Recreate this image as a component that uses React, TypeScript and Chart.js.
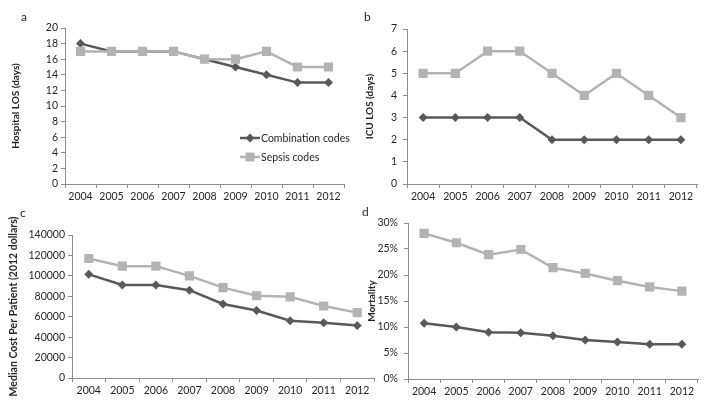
import React, { useEffect, useRef } from "react";
import { Chart, registerables } from "chart.js";

Chart.register(...registerables);

const years = ["2004", "2005", "2006", "2007", "2008", "2009", "2010", "2011", "2012"];
const seriesNames = ["Combination codes", "Sepsis codes"];

const losComb = [18, 17, 17, 17, 16, 15, 14, 13, 13];
const losSepsis = [17, 17, 17, 17, 16, 16, 17, 15, 15];
const icuComb = [3, 3, 3, 3, 2, 2, 2, 2, 2];
const icuSepsis = [5, 5, 6, 6, 5, 4, 5, 4, 3];
const costComb = [101500, 91000, 91000, 86000, 72500, 66000, 56000, 54000, 51500];
const costSepsis = [117000, 109500, 109500, 100000, 88500, 80500, 79500, 70500, 64000];
const mortComb = [10.7, 10.0, 9.0, 8.9, 8.3, 7.5, 7.1, 6.7, 6.7];
const mortSepsis = [28.0, 26.2, 23.9, 24.9, 21.4, 20.3, 18.9, 17.7, 16.9];

const DARK = "#595959";
const LIGHT = "#b3b3b3";
const FONT = "Lato, 'Open Sans', sans-serif";
const AXIS = "#8c8c8c";
const TEXT = "#262626";

type Panel = {
  letter: string;
  left: number;
  top: number;
  width: number;
  height: number;
  padTop: number;
  padRight: number;
  yWidth: number;
  xHeight: number;
  yMax: number;
  yStep: number;
  title: string;
  titleSize: number;
  titlePad: number;
  yTickPad: number;
  suffix: string;
  comb: number[];
  sepsis: number[];
  legend?: { x: number; y: number; gap: number };
  letterX: number;
  letterY: number;
};

const panels: Panel[] = [
  {
    letter: "a", left: 0, top: 0, width: 356, height: 204, padTop: 28, padRight: 12,
    yWidth: 65, xHeight: 20, yMax: 20, yStep: 2, title: "Hospital LOS (days)", titleSize: 10, titlePad: 9.5,
    yTickPad: 3, suffix: "", comb: losComb, sepsis: losSepsis,
    legend: { x: 240, y: 138, gap: 19 }, letterX: 25, letterY: 17,
  },
  {
    letter: "b", left: 356, top: 0, width: 356, height: 204, padTop: 29, padRight: 15,
    yWidth: 51, xHeight: 20, yMax: 7, yStep: 1, title: "ICU LOS (days)", titleSize: 10, titlePad: 7.5,
    yTickPad: 6, suffix: "", comb: icuComb, sepsis: icuSepsis, letterX: 368, letterY: 17,
  },
  {
    letter: "c", left: 0, top: 204, width: 390, height: 204, padTop: 31, padRight: 16,
    yWidth: 72, xHeight: 30, yMax: 140000, yStep: 20000, title: "Median Cost Per Patient (2012 dollars)",
    titleSize: 10.5, titlePad: 7.5, yTickPad: 3, suffix: "", comb: costComb, sepsis: costSepsis,
    letterX: 24, letterY: 213,
  },
  {
    letter: "d", left: 356, top: 204, width: 356, height: 204, padTop: 19, padRight: 14,
    yWidth: 52, xHeight: 29, yMax: 30, yStep: 5, title: "Mortality", titleSize: 10, titlePad: 9.5,
    yTickPad: 6, suffix: "%", comb: mortComb, sepsis: mortSepsis, letterX: 366, letterY: 212,
  },
];

const legendPlugin = {
  id: "panelLegend",
  afterDraw(chart: any, _args: any, opts: any) {
    if (!opts || !opts.show) return;
    const ctx = chart.ctx as CanvasRenderingContext2D;
    const entries = [
      { label: seriesNames[0], color: DARK, shape: "diamond" },
      { label: seriesNames[1], color: LIGHT, shape: "square" },
    ];
    ctx.save();
    entries.forEach((e, i) => {
      const y = opts.y + i * opts.gap;
      const x0 = opts.x;
      const x1 = opts.x + 20;
      const cx = (x0 + x1) / 2;
      ctx.strokeStyle = e.color;
      ctx.lineWidth = 2.5;
      ctx.beginPath();
      ctx.moveTo(x0, y);
      ctx.lineTo(x1, y);
      ctx.stroke();
      ctx.fillStyle = e.color;
      ctx.beginPath();
      if (e.shape === "diamond") {
        ctx.moveTo(cx, y - 4.5);
        ctx.lineTo(cx + 4.5, y);
        ctx.lineTo(cx, y + 4.5);
        ctx.lineTo(cx - 4.5, y);
        ctx.closePath();
        ctx.fill();
      } else {
        ctx.fillRect(cx - 4.5, y - 4.5, 9, 9);
      }
      ctx.fillStyle = TEXT;
      ctx.font = `10.5px ${FONT}`;
      ctx.textBaseline = "middle";
      ctx.textAlign = "left";
      ctx.fillText(e.label, x1 + 1, y + 0.5);
    });
    ctx.restore();
  },
};

function PanelChart({ p }: { p: Panel }) {
  const ref = useRef<HTMLCanvasElement | null>(null);
  useEffect(() => {
    if (!ref.current) return;
    const chart = new Chart(ref.current, {
      type: "line",
      data: {
        labels: years,
        datasets: [
          {
            label: seriesNames[0],
            data: p.comb,
            borderColor: DARK,
            backgroundColor: DARK,
            borderWidth: 2.5,
            pointStyle: "rectRot",
            pointRadius: 4.5,
            pointBorderWidth: 0,
            tension: 0,
            order: 1,
          },
          {
            label: seriesNames[1],
            data: p.sepsis,
            borderColor: LIGHT,
            backgroundColor: LIGHT,
            borderWidth: 2.5,
            pointStyle: "rect",
            pointRadius: 6.5,
            pointBorderWidth: 0,
            tension: 0,
            order: 0,
          },
        ],
      },
      options: {
        responsive: false,
        animation: false,
        devicePixelRatio: 1,
        layout: { padding: { top: p.padTop, right: p.padRight, left: 0, bottom: 0 } },
        plugins: {
          legend: { display: false },
          tooltip: { enabled: false },
          panelLegend: p.legend ? { show: true, ...p.legend } : { show: false },
        } as any,
        scales: {
          x: {
            type: "category",
            offset: true,
            grid: {
              offset: true,
              drawOnChartArea: false,
              drawTicks: true,
              tickLength: 4,
              color: AXIS,
            },
            border: { display: true, color: AXIS, width: 1 },
            ticks: {
              color: TEXT,
              font: { family: FONT, size: 10.5 },
              padding: 2,
              maxRotation: 0,
              autoSkip: false,
            },
            afterFit: (s: any) => {
              s.height = p.xHeight;
            },
          },
          y: {
            min: 0,
            max: p.yMax,
            grid: {
              drawOnChartArea: false,
              drawTicks: true,
              tickLength: 4,
              color: AXIS,
            },
            border: { display: true, color: AXIS, width: 1 },
            ticks: {
              stepSize: p.yStep,
              color: TEXT,
              font: { family: FONT, size: 10.5 },
              padding: p.yTickPad,
              callback: (v: any) => `${v}${p.suffix}`,
            },
            title: {
              display: true,
              text: p.title,
              color: TEXT,
              font: { family: FONT, size: p.titleSize, weight: "bold" },
              padding: { top: p.titlePad, bottom: 0 },
            },
            afterFit: (s: any) => {
              s.width = p.yWidth;
            },
          },
        },
      },
      plugins: [legendPlugin],
    } as any);
    return () => chart.destroy();
  }, [p]);
  return (
    <canvas
      ref={ref}
      width={p.width}
      height={p.height}
      style={{ position: "absolute", left: p.left, top: p.top, width: p.width, height: p.height }}
    />
  );
}

export default function App() {
  return (
    <div
      style={{
        position: "absolute",
        left: 0,
        top: 0,
        width: 712,
        height: 408,
        background: "#ffffff",
        overflow: "hidden",
        fontFamily: FONT,
      }}
    >
      {panels.map((p) => (
        <PanelChart key={p.letter} p={p} />
      ))}
      {panels.map((p) => (
        <div
          key={"l" + p.letter}
          style={{
            position: "absolute",
            left: p.letterX - 4,
            top: p.letterY - 8,
            fontSize: 12,
            lineHeight: "16px",
            color: TEXT,
          }}
        >
          {p.letter}
        </div>
      ))}
    </div>
  );
}
